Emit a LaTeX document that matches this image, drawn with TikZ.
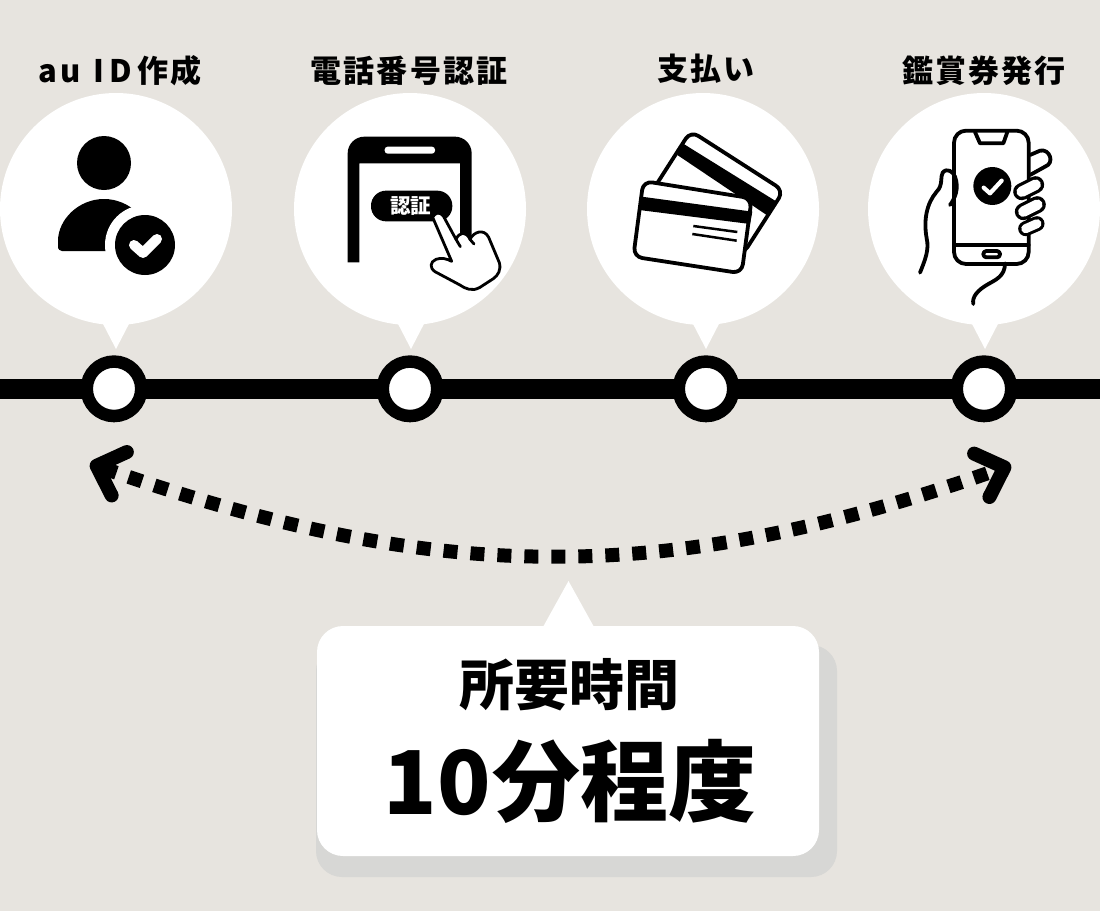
\documentclass[tikz,border=0pt]{standalone}
\usepackage{fontspec}
\usepackage{xcolor}
\usepackage{tikz}
\usetikzlibrary{arrows.meta}
\setmainfont{Noto Sans CJK JP Black}
\newfontfamily\jplabel{Noto Sans CJK JP Black}[LetterSpace=7]
\definecolor{paper}{HTML}{E7E4DF}
\definecolor{shade}{HTML}{D7D7D5}
\tikzset{
  bubble/.style={circle,fill=white,minimum size=232pt,inner sep=0pt,outer sep=0pt},
  station/.style={circle,draw=black,fill=white,line width=12.5pt,minimum size=54.5pt,inner sep=0pt,outer sep=0pt},
  steplabel/.style={font=\jplabel\fontsize{31}{31}\selectfont,inner sep=0pt},
  trackline/.style={line width=20pt},
  outline/.style={draw=black,line width=3.8pt,line join=round,line cap=round},
  finger/.style={line width=17pt,line cap=round},
}
\begin{document}
\begin{tikzpicture}[x=1pt,y=-1pt]
  \useasboundingbox[fill=paper] (0,0) rectangle (1100,911);

  % speech bubbles
  \node[bubble] (bubbleA) at (116,209) {};
  \node[bubble] (bubbleB) at (410,209) {};
  \node[bubble] (bubbleC) at (703,209) {};
  \node[bubble] (bubbleD) at (984,209) {};
  \fill[white] (101,320) -- (116,349) -- (131,320);
  \fill[white] (396,320) -- (411,349) -- (426,320);
  \fill[white] (691,320) -- (706,349) -- (721,320);
  \fill[white] (970,320) -- (985,349) -- (1000,320);

  \node[steplabel] (labelA) at (120,71) {a\hspace{3pt}u\hspace{13pt}I\hspace{5pt}D\hspace{6pt}作\hspace{2pt}成};
  \node[steplabel] (labelB) at (409,71) {電話番号認証};
  \node[steplabel] (labelC) at (706,69) {支払い};
  \node[steplabel] (labelD) at (984,71) {鑑賞券発行};

  % track with the stations
  \coordinate (trackL) at (0,388.8);
  \coordinate (trackR) at (1100,388.8);
  \node[station] (stationA) at (114,388.8) {};
  \node[station] (stationB) at (410,388.8) {};
  \node[station] (stationC) at (706,388.8) {};
  \node[station] (stationD) at (984,388.8) {};
  \draw[trackline] (trackL) -- (stationA);
  \draw[trackline] (stationA) -- (stationB);
  \draw[trackline] (stationB) -- (stationC);
  \draw[trackline] (stationC) -- (stationD);
  \draw[trackline] (stationD) -- (trackR);

  % user icon
  \fill (104,163) circle (27);
  \fill[rounded corners=4pt] (58,251) -- (58,245) arc (180:360:46 and 46) -- (150,251) -- cycle;
  \fill[white] (145,245) circle (40);
  \fill[white] (100,251.5) rectangle (150,280);
  \fill (145,245) circle (30);
  \draw[white,line width=10pt,line cap=round,line join=round] (134,245) -- (143,253) -- (157,239);

  % phone icon with pointing hand
  \begin{scope}[shift={(300,100)},scale=1/3]
    \fill (143,487) -- (143,160) arc (180:270:50) -- (465,110) arc (270:360:50) -- (515,420) -- (480,420) -- (480,190) -- (178,190) -- (178,487) -- cycle;
    \fill[white,rounded corners=3pt] (254,140) rectangle (405,161);
    \fill[rounded corners=15pt] (213,272) rectangle (457,364);
    \node[text=white,font=\fontsize{20.5}{20.5}\selectfont,inner sep=0pt] (authText) at (332,318) {認証};
    \draw[outline,line width=2.8pt,fill=white] (398,352) .. controls (404,338) and (420,334) .. (430,348) -- (468,418)
      .. controls (478,396) and (498,392) .. (510,418) .. controls (520,396) and (552,384) .. (566,412)
      -- (598,488) .. controls (604,510) and (594,526) .. (580,536) -- (540,562) .. controls (516,576) and (496,566) .. (478,554)
      -- (405,515) .. controls (388,503) and (390,486) .. (408,478) .. controls (424,472) and (440,476) .. (455,484) -- cycle;
    \draw[outline,line width=2.8pt] (468,418) -- (481,440);
    \draw[outline,line width=2.8pt] (510,418) -- (522,432);
  \end{scope}

  % credit cards
  \begin{scope}[shift={(600,100)},scale=1/3]
    \draw[outline,fill=white,rounded corners=9pt] (272,93) -- (551,272) -- (428,464) -- (149,285) -- cycle;
    \fill (248,130) -- (530,305) -- (503,347) -- (232,165) -- cycle;
    \draw[outline,fill=white,rounded corners=9pt] (130,243) -- (455,295) -- (425,520) -- (100,470) -- cycle;
    \fill (125,290) -- (457,335) -- (450,372) -- (118,330) -- cycle;
    \draw[line width=2.5pt] (280,378) -- (412,396);
    \draw[line width=2.5pt] (277,402) -- (410,422);
  \end{scope}

  % phone held in a hand
  \begin{scope}[shift={(890,110)},scale=1/3]
    \draw[outline] (90,488) .. controls (105,450) and (118,420) .. (110,385) .. controls (100,330) and (110,280) .. (140,245)
      .. controls (160,225) and (150,200) .. (158,188) .. controls (170,172) and (190,185) .. (195,200)
      .. controls (208,235) and (195,265) .. (180,285);
    \draw[outline] (345,460) .. controls (345,500) and (315,510) .. (290,525) .. controls (265,540) and (245,560) .. (250,582);
    \draw[outline,rounded corners=12pt] (192,62) rectangle (416,462);
    \draw[outline] (255,66) -- (270,100) -- (340,100) -- (352,66);
    \draw[outline] (192,405) -- (416,405);
    \draw[outline,rounded corners=3pt] (280,423) rectangle (330,442);
    \fill (307,228) circle (57);
    \draw[white,line width=4.2pt,line cap=round,line join=round] (281,233) -- (300,250) -- (335,212);
    \draw[outline] (420,135) -- (450,122) .. controls (480,115) and (495,160) .. (465,170) -- (420,195);
    \draw[finger] (395,245) -- (437,224);
    \draw[finger,white,line width=10.5pt] (395,245) -- (437,224);
    \draw[finger] (400,305) -- (442,284);
    \draw[finger,white,line width=10.5pt] (400,305) -- (442,284);
    \draw[finger,line width=15pt] (407,356) -- (441,341);
    \draw[finger,white,line width=9pt] (407,356) -- (441,341);
  \end{scope}

  % duration arc
  \coordinate (arcL) at (90,463.5);
  \coordinate (arcR) at (1011,465);
  \coordinate (arcLa) at (440,586);
  \coordinate (arcRa) at (668,586);
  \draw[line width=14pt,dash pattern=on 14pt off 13pt,{Straight Barb[length=24pt,width=46pt,line width=14pt,round]}-{Straight Barb[length=24pt,width=46pt,line width=14pt,round]}]
    (arcL) .. controls (arcLa) and (arcRa) .. (arcR);

  % callout
  \node[minimum width=521pt,minimum height=232pt,inner sep=0pt,outer sep=0pt,fill=shade,rounded corners=26pt] (calloutShade) at (576.5,761) {};
  \node[minimum width=502pt,minimum height=230pt,inner sep=0pt,outer sep=0pt,fill=white,rounded corners=26pt] (callout) at (568,741) {};
  \fill[white] (543,627) -- (568.5,581) -- (594,627) -- cycle;
  \node[font=\fontsize{55}{55}\selectfont,inner sep=0pt] (timeTitle) at (569,685) {所要時間};
  \node[font=\fontsize{88}{88}\selectfont,inner sep=0pt] (timeValue) at (570,781) {1\hspace{1pt}0\hspace{1pt}分程度};
\end{tikzpicture}
\end{document}
